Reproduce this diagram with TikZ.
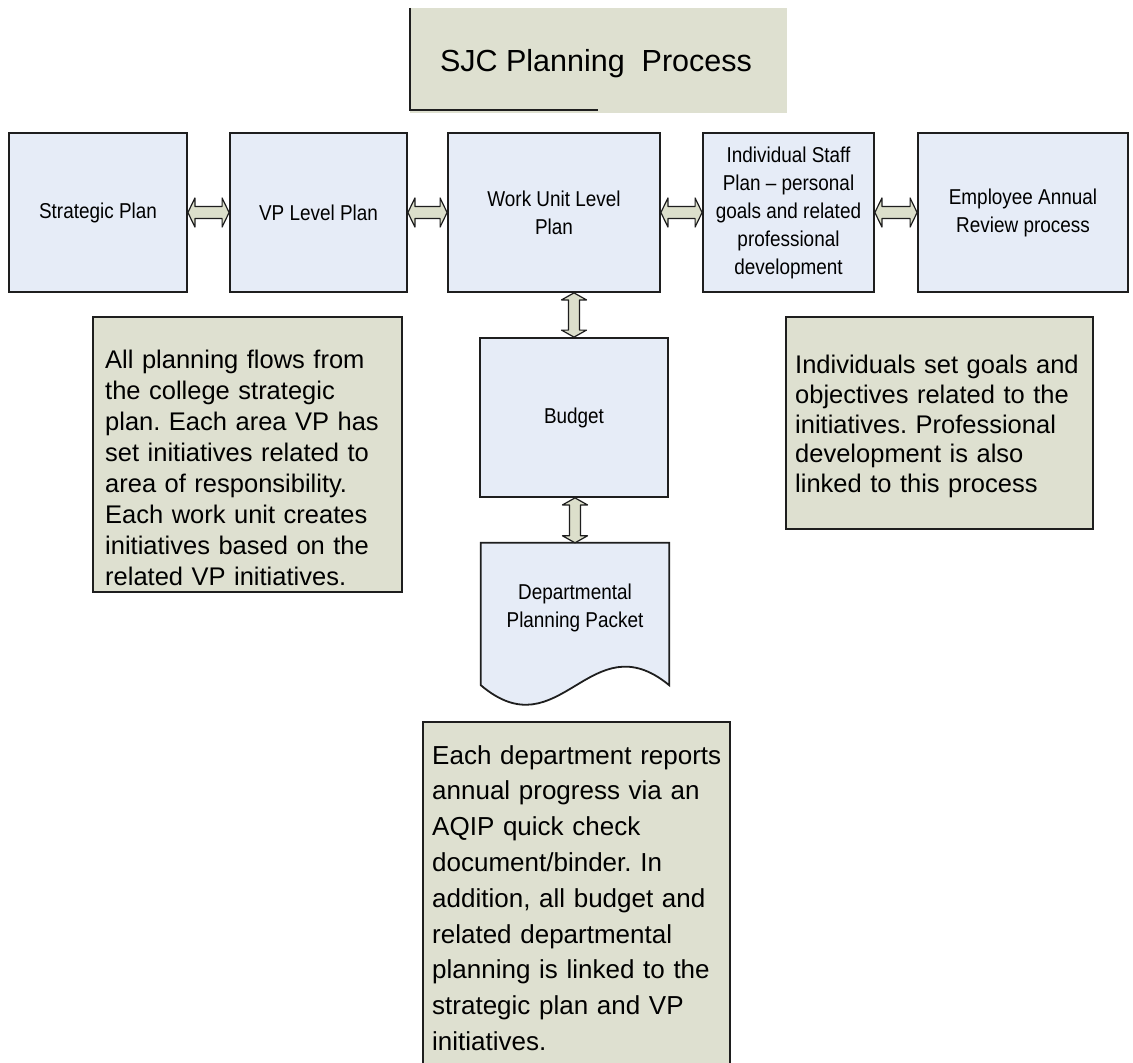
\documentclass[tikz,border=0pt]{standalone}
\usepackage{fontspec}
\setmainfont{Liberation Sans}
\newfontfamily\condsans{Liberation Sans}[FakeStretch=0.88]
\newfontfamily\notefont{Liberation Sans}[WordSpace=0.6]
\usetikzlibrary{calc}
\definecolor{boxblue}{HTML}{E6ECF7}
\definecolor{notefill}{HTML}{DEE0D0}
\definecolor{arrfill}{HTML}{DCDFCB}
\definecolor{edge}{HTML}{1E1E1E}
\newcommand\hblock[2]{\draw[blk] let \p1=(#1.east), \p2=(#2.west) in
  (\x1,\y1) -- (\x1+7pt,\y1+14.5pt) -- (\x1+7pt,\y1+6pt) -- (\x2-7pt,\y1+6pt) -- (\x2-7pt,\y1+14.5pt)
  -- (\x2,\y1) -- (\x2-7pt,\y1-14.5pt) -- (\x2-7pt,\y1-6pt) -- (\x1+7pt,\y1-6pt) -- (\x1+7pt,\y1-14.5pt) -- cycle;}
\newcommand\vblock[2]{\draw[blk] let \p1=(#1.south), \p2=(#2.north) in
  (\x2,\y1) -- (\x2+12.5pt,\y1-7pt) -- (\x2+5.5pt,\y1-7pt) -- (\x2+5.5pt,\y2+7pt) -- (\x2+12.5pt,\y2+7pt)
  -- (\x2,\y2) -- (\x2-12.5pt,\y2+7pt) -- (\x2-5.5pt,\y2+7pt) -- (\x2-5.5pt,\y1-7pt) -- (\x2-12.5pt,\y1-7pt) -- cycle;}
\begin{document}
\frenchspacing
\begin{tikzpicture}[x=1pt,y=-1pt,
  planbox/.style={draw=edge, line width=1.8pt, fill=boxblue, inner sep=0pt, minimum height=159pt,
    align=center, font=\condsans\fontsize{21.5}{28}\selectfont},
  note/.style={draw=edge, line width=1.5pt, fill=notefill, inner sep=0pt},
  notetext/.style={anchor=north west, align=left, inner sep=0pt, text width=300pt},
  blk/.style={draw=edge, line width=1.2pt, fill=arrfill, line join=round}]
\useasboundingbox (0,0) rectangle (1133,1063);
\clip (0,0) rectangle (1133,1063);
\fill[white] (0,0) rectangle (1133,1063);

% title
\node (title) [fill=notefill, minimum width=377pt, minimum height=105pt, inner sep=0pt] at (598.5,60.5) {};
\node (titletext) [inner sep=0pt, font=\fontsize{30.5}{36}\selectfont] at (596,64) {SJC Planning\ \ Process};
\draw[edge, line width=1.5pt] (title.north west) -- ($(title.south west)+(0,-3)$) -- ($(title.south west)+(188,-3)$);

% top row
\node (sp) [planbox, minimum width=178pt] at (98,212.5) {Strategic Plan};
\node (vp) [planbox, minimum width=177pt] at (318.5,212.5) {VP Level Plan};
\node (wu) [planbox, minimum width=212pt] at (554,212.5) {Work Unit Level\\Plan};
\node (is) [planbox, minimum width=171pt] at (788.5,212.5) {Individual Staff\\Plan – personal\\goals and related\\professional\\development};
\node (ea) [planbox, minimum width=210pt] at (1023,212.5) {Employee Annual\\Review process};

% middle column
\node (bud) [planbox, minimum width=188pt] at (574,417.5) {Budget};
\node (dpp) [minimum width=188pt, minimum height=142pt, inner sep=0pt] at (575,614) {};
\draw[draw=edge, line width=1.8pt, fill=boxblue]
  (dpp.north west) -- (dpp.north east) -- (dpp.south east)
  .. controls ($(dpp.south east)+(-79,-65)$) and ($(dpp.south west)+(79,67)$) .. (dpp.south west) -- cycle;
\node (dpptext) [align=center, inner sep=0pt, font=\condsans\fontsize{21.5}{28}\selectfont] at ($(dpp.center)+(0,-6)$) {Departmental\\Planning Packet};

% connectors
\hblock{sp}{vp}
\hblock{vp}{wu}
\hblock{wu}{is}
\hblock{is}{ea}
\vblock{wu}{bud}
\vblock{bud}{dpp}

% notes
\node (lnote) [note, minimum width=309pt, minimum height=275pt] at (247.5,454.5) {};
\node (lnotetext) [notetext, font=\notefont\fontsize{25.5}{31}\selectfont] at (105,350)
 {All planning flows from\\the college strategic\\plan. Each area VP has\\set initiatives related to\\area of responsibility.\\Each work unit creates\\initiatives based on the\\related VP initiatives.};

\node (rnote) [note, minimum width=307pt, minimum height=212pt] at (939.5,423) {};
\node (rnotetext) [notetext, font=\notefont\fontsize{25.5}{29.7}\selectfont] at (795,355)
 {Individuals set goals and\\objectives related to the\\initiatives. Professional\\development is also\\linked to this process};

\node (bnote) [note, minimum width=307pt, minimum height=400pt] at (576.5,922) {};
\node (bnotetext) [notetext, font=\notefont\fontsize{26}{35.8}\selectfont] at (432,745)
 {Each department reports\\annual progress via an\\AQIP quick check\\document/binder. In\\addition, all budget and\\related departmental\\planning is linked to the\\strategic plan and VP\\initiatives.};
\end{tikzpicture}
\end{document}
